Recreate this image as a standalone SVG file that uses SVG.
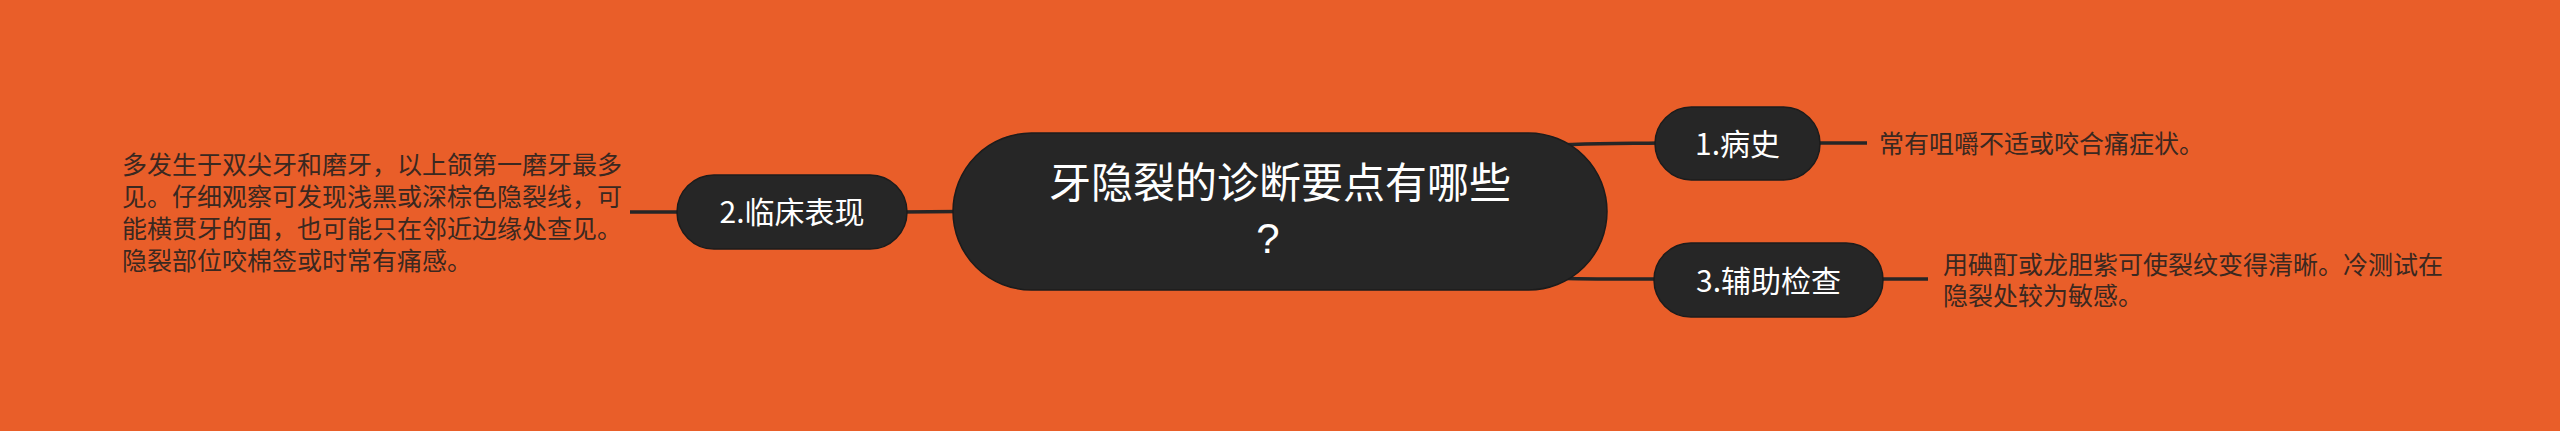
<svg xmlns="http://www.w3.org/2000/svg" width="2560" height="431" viewBox="0 0 2560 431">
<style>
.node rect{fill:#262626;stroke:#1c1c1c;stroke-width:1.5}
.lbl{font-family:"Noto Sans CJK SC","Noto Sans",sans-serif;fill:#ffffff;text-anchor:middle}
.q{font-family:"Liberation Sans",Arial,sans-serif}
.leaf{font-family:"Noto Sans CJK SC","Noto Sans",sans-serif;font-size:25px;fill:#3a2820}
.conn path{fill:none;stroke:#262626;stroke-width:3.5;stroke-linecap:butt}
</style>
<rect x="0" y="0" width="2560" height="431" fill="#E95E29"/>
<g id="connectors" class="conn">
<path d="M1540,146 C1560,144 1580,144 1660,143"/>
<path d="M1540,277 C1560,279 1580,279 1660,279"/>
<path d="M960,211.5 L900,212"/>
<path d="M684,212 L630,212"/>
<path d="M1815,143 L1867,143"/>
<path d="M1878,279 L1928,279"/>
</g>
<g id="root" class="node">
<rect x="953" y="133" width="654" height="157" rx="78.5" ry="78.5"/>
<text class="lbl" font-size="42"><tspan x="1280" y="198">牙隐裂的诊断要点有哪些</tspan><tspan class="q" x="1268" y="253">?</tspan></text>
</g>
<g id="n1" class="node">
<rect x="1655" y="107" width="165" height="73" rx="36.5" ry="36.5"/>
<text class="lbl" x="1737.5" y="155" font-size="30">1.病史</text>
</g>
<g id="n2" class="node">
<rect x="677" y="175" width="230" height="74" rx="37" ry="37"/>
<text class="lbl" x="792" y="223" font-size="30">2.临床表现</text>
</g>
<g id="n3" class="node">
<rect x="1654" y="243" width="229" height="74" rx="37" ry="37"/>
<text class="lbl" x="1768.5" y="291.5" font-size="30">3.辅助检查</text>
</g>
<g id="t1">
<text class="leaf" x="1879" y="152.5">常有咀嚼不适或咬合痛症状。</text>
</g>
<g id="t2">
<text class="leaf"><tspan x="122" y="174">多发生于双尖牙和磨牙，以上颌第一磨牙最多</tspan><tspan x="122" y="206">见。仔细观察可发现浅黑或深棕色隐裂线，可</tspan><tspan x="122" y="238">能横贯牙的面，也可能只在邻近边缘处查见。</tspan><tspan x="122" y="270">隐裂部位咬棉签或时常有痛感。</tspan></text>
</g>
<g id="t3">
<text class="leaf"><tspan x="1943" y="273.5">用碘酊或龙胆紫可使裂纹变得清晰。冷测试在</tspan><tspan x="1943" y="304.5">隐裂处较为敏感。</tspan></text>
</g>
</svg>
